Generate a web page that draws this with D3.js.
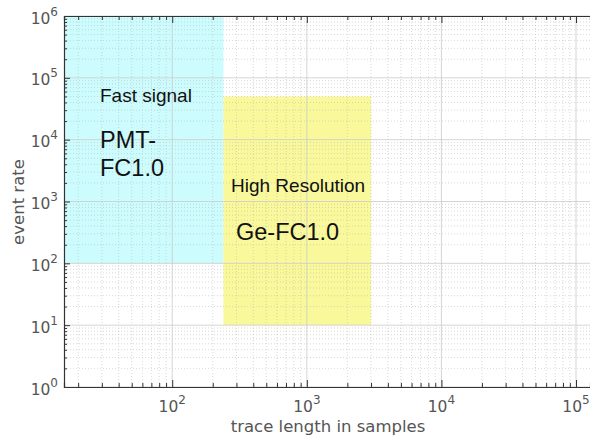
<!DOCTYPE html>
<html>
<head>
<meta charset="utf-8">
<script src="https://cdn.jsdelivr.net/npm/d3@7"></script>
<style>
  body { margin: 0; background: #fff; }
  svg { display: block; }
</style>
</head>
<body>
<div id="chart"></div>
<script>
// regions in trace length (x) / event rate (y)
const regionNames = ["Fast signal", "High Resolution"]
const regionBoards = [["PMT-", "FC1.0"], ["Ge-FC1.0"]]
const regionX = [[16, 240], [240, 3000]]
const regionY = [[100, 1e6], [10, 5e4]]
const regionColors = ["#ccfcfd", "#f9f99b"]

const xTicks = [1e2, 1e3, 1e4, 1e5]
const xExps = ["2", "3", "4", "5"]
const yTicks = [1e0, 1e1, 1e2, 1e3, 1e4, 1e5, 1e6]
const yExps = ["0", "1", "2", "3", "4", "5", "6"]

const width = 590, height = 437
const plotLeft = 64, plotTop = 16, plotBottom = 387, plotRight = 590

const svg = d3.select("#chart")
  .append("svg")
    .attr("width", width)
    .attr("height", height)

const x = d3.scaleLog().domain([15.7, 1.27e5]).range([plotLeft, plotRight])
const y = d3.scaleLog().domain([1, 1e6]).range([plotBottom, plotTop])

// region boxes
svg.selectAll("rect.region")
  .data(regionX)
  .enter()
  .append("rect")
    .attr("class", "region")
    .attr("x", d => x(d[0]))
    .attr("width", d => x(d[1]) - x(d[0]))
    .attr("y", (d, i) => y(regionY[i][1]))
    .attr("height", (d, i) => y(regionY[i][0]) - y(regionY[i][1]))
    .attr("fill", (d, i) => regionColors[i])

// minor / major grid
const xMinor = [], yMinor = []
for (let e = 1; e <= 5; e++) for (let m = 1; m < 10; m++) {
  const v = m * Math.pow(10, e)
  if (v >= 15.7 && v <= 1.27e5) xMinor.push(v)
}
for (let e = 0; e < 6; e++) for (let m = 2; m < 10; m++) yMinor.push(m * Math.pow(10, e))

const grid = svg.append("g")
grid.selectAll("line.xm")
  .data(xMinor.filter(v => !xTicks.includes(v)))
  .enter().append("line")
    .attr("x1", d => x(d)).attr("x2", d => x(d))
    .attr("y1", plotTop).attr("y2", plotBottom)
    .attr("stroke", "#bbb").attr("stroke-width", 0.7)
    .attr("stroke-dasharray", "1,2").attr("opacity", 0.8)
grid.selectAll("line.ym")
  .data(yMinor)
  .enter().append("line")
    .attr("y1", d => y(d)).attr("y2", d => y(d))
    .attr("x1", plotLeft).attr("x2", plotRight)
    .attr("stroke", "#bbb").attr("stroke-width", 0.7)
    .attr("stroke-dasharray", "1,2").attr("opacity", 0.8)
grid.selectAll("line.xM")
  .data(xTicks)
  .enter().append("line")
    .attr("x1", d => x(d)).attr("x2", d => x(d))
    .attr("y1", plotTop).attr("y2", plotBottom)
    .attr("stroke", "#ccc").attr("stroke-width", 1).attr("opacity", 0.8)
grid.selectAll("line.yM")
  .data(yTicks)
  .enter().append("line")
    .attr("y1", d => y(d)).attr("y2", d => y(d))
    .attr("x1", plotLeft).attr("x2", plotRight)
    .attr("stroke", "#ccc").attr("stroke-width", 1).attr("opacity", 0.8)

// axes with inward ticks
const xAxis = svg.append("g")
  .attr("transform", `translate(0,${plotBottom})`)
  .call(d3.axisTop(x).tickValues(xMinor).tickSize(4).tickFormat(""))
const xAxisTop = svg.append("g")
  .attr("transform", `translate(0,${plotTop})`)
  .call(d3.axisBottom(x).tickValues(xMinor).tickSize(4).tickFormat(""))
const yAxis = svg.append("g")
  .attr("transform", `translate(${plotLeft},0)`)
  .call(d3.axisRight(y).tickValues(yMinor.concat(yTicks)).tickSize(3).tickFormat(""))
;[xAxis, xAxisTop, yAxis].forEach(g => {
  g.selectAll("path").attr("stroke", "#333").attr("stroke-width", 1.2)
  g.selectAll("line").attr("stroke", "#333")
})
xAxis.selectAll(".tick line").filter(d => xTicks.includes(d)).attr("y2", -7)
xAxisTop.selectAll(".tick line").filter(d => xTicks.includes(d)).attr("y2", 7)
yAxis.selectAll(".tick line").filter(d => yTicks.includes(d)).attr("x2", 6)

// tick labels
const labelFont = "DejaVu Sans, sans-serif"
const yl = svg.selectAll("text.ylab")
  .data(yTicks)
  .enter().append("text")
    .attr("x", 58)
    .attr("y", d => y(d) + 7.5)
    .attr("text-anchor", "end")
    .attr("font-family", labelFont)
    .attr("font-size", 15.5)
    .attr("fill", "#555")
yl.append("tspan").text("10")
yl.append("tspan").attr("dy", -8).attr("font-size", 12).text((d, i) => yExps[i])

const xl = svg.selectAll("text.xlab")
  .data(xTicks)
  .enter().append("text")
    .attr("x", d => x(d))
    .attr("y", 412)
    .attr("text-anchor", "middle")
    .attr("font-family", labelFont)
    .attr("font-size", 15.5)
    .attr("fill", "#555")
xl.append("tspan").text("10")
xl.append("tspan").attr("dy", -8).attr("font-size", 12).text((d, i) => xExps[i])

svg.append("text")
  .attr("x", 328).attr("y", 432)
  .attr("text-anchor", "middle")
  .attr("font-family", labelFont)
  .attr("font-size", 16.5)
  .attr("fill", "#555")
  .text("trace length in samples")

svg.append("text")
  .attr("transform", "translate(24,202) rotate(-90)")
  .attr("text-anchor", "middle")
  .attr("font-family", labelFont)
  .attr("font-size", 16.5)
  .attr("fill", "#555")
  .text("event rate")

// region annotations
const annFont = "Liberation Sans, Arial, sans-serif"
svg.append("text")
  .attr("x", 100).attr("y", 101.5)
  .attr("font-family", annFont).attr("font-size", 19).attr("fill", "#111")
  .text(regionNames[0])
regionBoards[0].forEach((t, i) => {
  svg.append("text")
    .attr("x", 100).attr("y", 148 + i * 28)
    .attr("font-family", annFont).attr("font-size", 23.5).attr("fill", "#111")
    .text(t)
})
svg.append("text")
  .attr("x", 231).attr("y", 192)
  .attr("font-family", annFont).attr("font-size", 19).attr("fill", "#111")
  .text(regionNames[1])
svg.append("text")
  .attr("x", 236).attr("y", 240)
  .attr("font-family", annFont).attr("font-size", 23.5).attr("fill", "#111")
  .text(regionBoards[1][0])
</script>
</body>
</html>
